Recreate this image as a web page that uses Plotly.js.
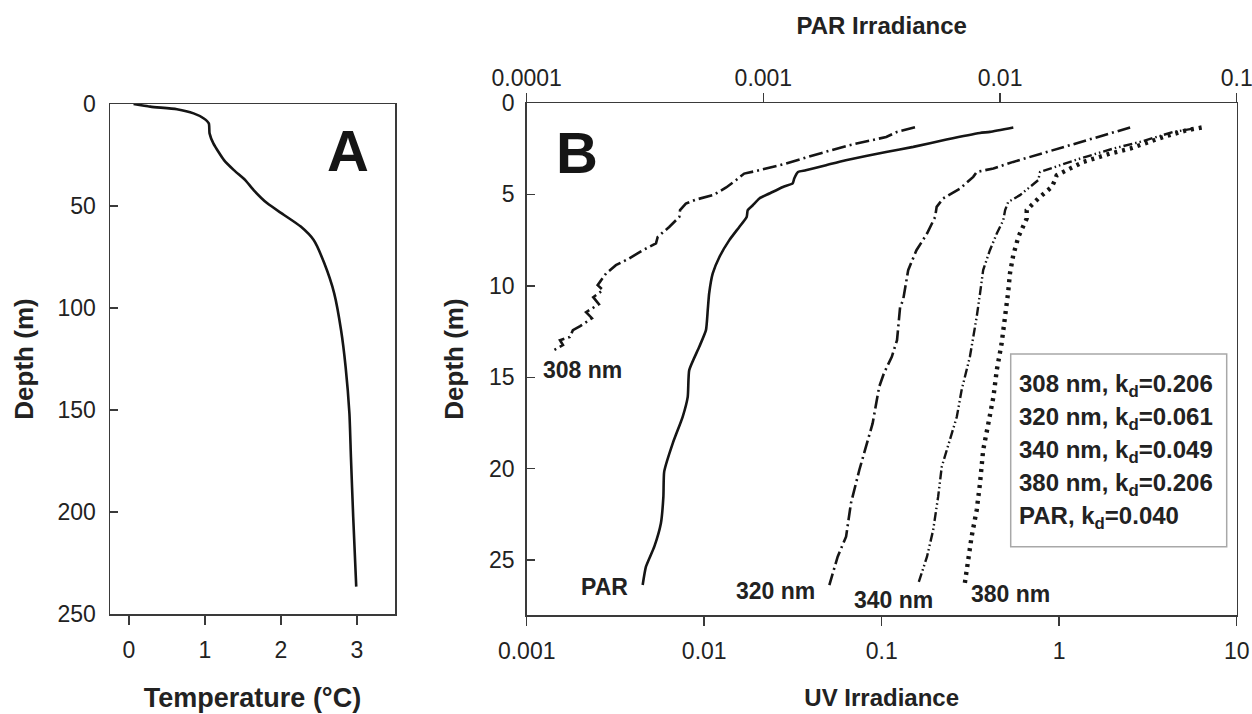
<!DOCTYPE html>
<html>
<head>
<meta charset="utf-8">
<script src="https://cdn.plot.ly/plotly-3.0.1.min.js"></script>
<style>html,body{margin:0;padding:0;background:#fff;}#chart{width:1252px;height:714px;}</style>
</head>
<body>
<div id="chart"></div>
<script>
// ---- Panel A: temperature profile ----
const tempDepth = [0, 1.3, 2.6, 4.6, 7, 9.5, 14.4, 19.3, 27.5, 32.4, 37.3, 42.2, 48.7, 54.4, 60.1, 66.7, 78.1, 92.8, 110.8, 128.8, 151.6, 172.9, 202.3, 236.6];
const tempC = [0.06, 0.28, 0.63, 0.85, 0.98, 1.05, 1.06, 1.11, 1.25, 1.38, 1.53, 1.64, 1.82, 2.04, 2.26, 2.43, 2.57, 2.70, 2.79, 2.85, 2.90, 2.92, 2.95, 2.99];

// ---- Panel B: irradiance profiles ----
const d308 = [1.33, 1.58, 1.86, 2.31, 2.77, 3.31, 3.68, 3.86, 4.22, 4.62, 5.04, 5.28, 5.50, 5.86, 6.23, 6.78, 7.32, 7.68, 8.05, 8.50, 8.87, 9.32, 9.96, 10.23, 10.62, 11.0, 11.44, 11.77, 12.2, 12.42, 12.8, 12.97, 13.24, 13.6];
const uv308 = [0.154, 0.122, 0.106, 0.0656, 0.0444, 0.0289, 0.0204, 0.0168, 0.0151, 0.0133, 0.0112, 0.0090, 0.00788, 0.00731, 0.00724, 0.00635, 0.00547, 0.00535, 0.00451, 0.00378, 0.00318, 0.00280, 0.00251, 0.00269, 0.00237, 0.00255, 0.00216, 0.00233, 0.00200, 0.00182, 0.00175, 0.00154, 0.0016, 0.00137];

const d320 = [1.34, 1.86, 2.68, 3.22, 3.58, 3.77, 4.04, 4.68, 5.22, 5.68, 6.23, 7.14, 8.05, 9.14, 10.78, 11.15, 12.97, 13.88, 14.77, 15.52, 16.97, 17.52, 20.07, 21.89, 23.72, 24.81, 26.36];
const uv320 = [2.51, 1.63, 0.851, 0.551, 0.426, 0.343, 0.328, 0.276, 0.222, 0.204, 0.200, 0.180, 0.157, 0.141, 0.132, 0.127, 0.122, 0.114, 0.103, 0.0968, 0.0916, 0.0889, 0.0748, 0.0671, 0.0630, 0.0565, 0.0507];

const d340 = [1.40, 1.58, 2.13, 2.49, 3.04, 3.40, 3.77, 4.22, 5.04, 5.41, 5.86, 6.41, 7.14, 8.05, 9.14, 10.42, 11.69, 13.88, 15.70, 17.16, 18.43, 19.89, 21.53, 23.35, 24.81, 26.26];
const uv340 = [5.69, 4.40, 2.85, 2.02, 1.31, 1.01, 0.780, 0.762, 0.601, 0.516, 0.496, 0.484, 0.445, 0.407, 0.373, 0.358, 0.343, 0.314, 0.282, 0.265, 0.243, 0.218, 0.208, 0.195, 0.180, 0.161];

const d380 = [1.34, 1.49, 1.86, 2.49, 2.77, 3.22, 3.68, 3.95, 4.22, 4.59, 5.22, 5.86, 6.32, 6.86, 7.32, 8.32, 9.32, 10.33, 11.69, 13.15, 14.61, 16.07, 17.52, 18.98, 20.80, 22.26, 23.72, 25.36, 26.26];
const uv380 = [6.35, 5.23, 3.86, 2.51, 1.93, 1.37, 1.10, 0.968, 0.946, 0.908, 0.762, 0.656, 0.656, 0.615, 0.589, 0.551, 0.528, 0.516, 0.496, 0.474, 0.445, 0.426, 0.399, 0.373, 0.358, 0.343, 0.321, 0.301, 0.294];

const dPAR = [1.34, 1.58, 1.64, 2.0, 2.40, 2.68, 3.13, 3.40, 3.68, 3.77, 4.13, 4.40, 4.59, 4.95, 5.22, 5.59, 5.86, 6.23, 6.78, 7.50, 8.42, 9.32, 10.42, 11.33, 12.42, 13.33, 14.61, 16.07, 17.16, 18.61, 20.16, 21.53, 22.98, 24.26, 25.36, 26.36];
const par = [0.01138, 0.00906, 0.00822, 0.00594, 0.00430, 0.00330, 0.00223, 0.00184, 0.00151, 0.00140, 0.00135, 0.00133, 0.00121, 0.00106, 0.000962, 0.000902, 0.000859, 0.000850, 0.000791, 0.000718, 0.000652, 0.000611, 0.000590, 0.000582, 0.000572, 0.000536, 0.000486, 0.000479, 0.000456, 0.000414, 0.000381, 0.000378, 0.000369, 0.000346, 0.000319, 0.000309];

// Legend (kd) box text
const legendNames = ['308 nm', '320 nm', '340 nm', '380 nm', 'PAR'];
const legendKd = ['0.206', '0.061', '0.049', '0.206', '0.040'];

// Tick labels
const tempTicks = [0, 1, 2, 3];
const depthTicksA = [0, 50, 100, 150, 200, 250];
const depthTicksB = [0, 5, 10, 15, 20, 25];
const uvTicks = [0.001, 0.01, 0.1, 1, 10];
const uvTickText = ['0.001', '0.01', '0.1', '1', '10'];
const parTicks = [0.0001, 0.001, 0.01, 0.1];
const parTickText = ['0.0001', '0.001', '0.01', '0.1'];

// Curve labels (text, x value on UV axis, depth)
const curveLabels = [
  {text: '308 nm', x: 0.002075, y: 14.6},
  {text: 'PAR', x: 0.00276, y: 26.46},
  {text: '320 nm', x: 0.02506, y: 26.68},
  {text: '340 nm', x: 0.1159, y: 27.18},
  {text: '380 nm', x: 0.5284, y: 26.85}
];

const INK = '#151515';
const AX = '#3a3a3a';
const FONT = 'Liberation Sans, Arial, sans-serif';

const traces = [
  {x: tempC, y: tempDepth, xaxis: 'x', yaxis: 'y', mode: 'lines',
   line: {color: INK, width: 2.6, shape: 'spline', smoothing: 0.6}},
  {x: uv308, y: d308, xaxis: 'x2', yaxis: 'y2', mode: 'lines',
   line: {color: INK, width: 2.6, dash: '14px,4px,2px,4px'}},
  {x: par, y: dPAR, xaxis: 'x3', yaxis: 'y2', mode: 'lines',
   line: {color: INK, width: 2.6, shape: 'spline', smoothing: 0.5}},
  {x: uv320, y: d320, xaxis: 'x2', yaxis: 'y2', mode: 'lines',
   line: {color: INK, width: 2.6, dash: '13px,4px,2px,4px'}},
  {x: uv340, y: d340, xaxis: 'x2', yaxis: 'y2', mode: 'lines',
   line: {color: INK, width: 2.4, dash: '9px,3px,1.5px,3px,1.5px,3px'}},
  {x: uv380, y: d380, xaxis: 'x2', yaxis: 'y2', mode: 'lines',
   line: {color: INK, width: 4.4, dash: '3px,5px'}}
];

const tickFont = {family: FONT, size: 23, color: '#222'};
const titleFont = (s) => ({family: FONT, size: s, color: '#222', weight: 'bold'});

const L = 110, R = 15, T = 103, B = 99;
const W = 1252 - L - R, H = 714 - T - B;
const px = v => (v - L) / W;
const py = v => (714 - B - v) / H;

const annotations = [
  {text: '<b>A</b>', xref: 'x', yref: 'y', x: 2.88, y: 23, showarrow: false,
   font: {family: FONT, size: 58, color: INK}},
  {text: '<b>B</b>', xref: 'x2', yref: 'y2', x: Math.log10(0.00192), y: 2.69, showarrow: false,
   font: {family: FONT, size: 58, color: INK}}
];
curveLabels.forEach(c => {
  annotations.push({text: '<b>' + c.text + '</b>', xref: 'x2', yref: 'y2',
    x: Math.log10(c.x), y: c.y, showarrow: false,
    font: {family: FONT, size: 23, color: '#222'}});
});
const legendY = [385, 418, 451.7, 484, 517];
legendNames.forEach((n, i) => {
  annotations.push({text: '<b>' + n + ', k<sub>d</sub>=' + legendKd[i] + '</b>',
    xref: 'paper', yref: 'paper', x: px(1017), y: py(legendY[i]), xanchor: 'left', yanchor: 'middle',
    showarrow: false, align: 'left', font: {family: FONT, size: 24, color: '#222'}});
});

const layout = {
  width: 1252, height: 714,
  margin: {l: L, r: R, t: T, b: B},
  paper_bgcolor: '#fff', plot_bgcolor: '#fff',
  showlegend: false,
  font: {family: FONT, color: '#222'},
  xaxis: {domain: [0, px(395)], range: [-0.25, 3.5], tickvals: tempTicks,
    ticks: 'outside', ticklen: 9, tickwidth: 1.5, tickcolor: AX,
    showline: true, linecolor: AX, linewidth: 1.5, mirror: true,
    showgrid: false, zeroline: false, tickfont: tickFont, ticklabelstandoff: 6,
    title: {text: 'Temperature (°C)', font: titleFont(27), standoff: 26}, anchor: 'y'},
  yaxis: {domain: [py(614), py(104)], range: [250, 0], tickvals: depthTicksA,
    ticks: 'inside', ticklen: 8, tickwidth: 1.5, tickcolor: AX,
    showline: true, linecolor: AX, linewidth: 1.5, mirror: true,
    showgrid: false, zeroline: false, tickfont: tickFont, ticklabelstandoff: 8,
    title: {text: 'Depth (m)', font: titleFont(26), standoff: 16}, anchor: 'x'},
  xaxis2: {domain: [px(526.7), px(1236.7)], type: 'log', range: [-3.0001, 1.0001],
    tickvals: uvTicks, ticktext: uvTickText, ticklabeloverflow: 'allow',
    ticks: 'outside', ticklen: 9, tickwidth: 1.5, tickcolor: AX,
    showline: true, linecolor: AX, linewidth: 1.5,
    showgrid: false, zeroline: false, tickfont: tickFont, ticklabelstandoff: 6,
    title: {text: 'UV Irradiance', font: titleFont(24), standoff: 26}, anchor: 'y2'},
  xaxis3: {domain: [px(526.7), px(1236.7)], type: 'log', range: [-4.0001, -0.9999],
    overlaying: 'x2', side: 'top', anchor: 'y2',
    tickvals: parTicks, ticktext: parTickText, ticklabeloverflow: 'allow',
    ticks: 'outside', ticklen: 9, tickwidth: 1.5, tickcolor: AX,
    showline: true, linecolor: AX, linewidth: 1.5,
    showgrid: false, zeroline: false, tickfont: tickFont, ticklabelstandoff: -3,
    title: {text: 'PAR Irradiance', font: titleFont(24), standoff: 24}},
  yaxis2: {domain: [0, 1], range: [28, 0], tickvals: depthTicksB,
    ticks: 'inside', ticklen: 8, tickwidth: 1.5, tickcolor: AX,
    showline: true, linecolor: AX, linewidth: 1.5, mirror: true,
    showgrid: false, zeroline: false, tickfont: tickFont, ticklabelstandoff: 6,
    title: {text: 'Depth (m)', font: titleFont(26), standoff: 18}, anchor: 'x2'},
  shapes: [
    {type: 'rect', xref: 'paper', yref: 'paper', x0: px(1010.7), x1: px(1226.7),
     y0: py(546.7), y1: py(354), line: {color: '#a8a8a8', width: 1.5}, fillcolor: 'rgba(0,0,0,0)'}
  ],
  annotations: annotations
};

Plotly.newPlot('chart', traces, layout, {staticPlot: true, displayModeBar: false});
</script>
</body>
</html>
